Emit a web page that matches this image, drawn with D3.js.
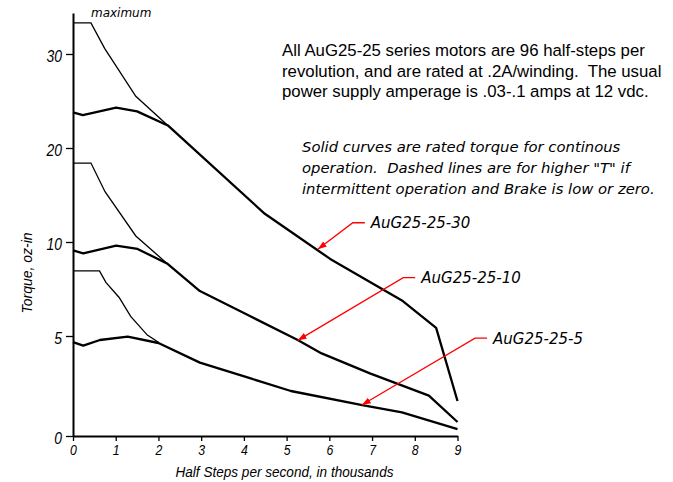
<!DOCTYPE html>
<html>
<head>
<meta charset="utf-8">
<script src="https://cdn.jsdelivr.net/npm/d3@7"></script>
<style>
  body { margin: 0; background: #fff; }
  .narrow { font-family: "Liberation Sans", Arial, sans-serif; font-style: italic; }
  text { white-space: pre; }
</style>
</head>
<body>
<div id="chart"></div>
<script>
// Torque curves (x = half steps per second in thousands, y = torque oz-in)
var max30   = [[0, 33.3], [0.42, 33.3], [0.74, 30.6], [1.47, 25.5], [2.22, 22.4]];
var rated30 = [[0, 23.8], [0.23, 23.5], [1.01, 24.3], [1.5, 23.9], [2.22, 22.4], [4.49, 13.0],
               [6.02, 9.1], [7.72, 6.86], [8.5, 5.43], [9.0, 1.75]];
var max10   = [[0, 18.4], [0.42, 18.4], [0.75, 15.35], [1.47, 10.64], [2.2, 8.86]];
var rated10 = [[0, 9.55], [0.24, 9.4], [1.01, 9.81], [1.51, 9.63], [2.2, 8.86], [2.97, 7.39],
               [4.14, 6.06], [5.26, 4.8], [5.82, 4.13], [6.95, 3.13], [8.33, 2.02], [9.0, 0.7]];
var max5    = [[0, 8.46], [0.62, 8.46], [0.77, 7.85], [1.08, 7.05], [1.35, 6.04], [1.74, 5.05], [2.0, 4.69]];
var rated5  = [[0, 4.69], [0.24, 4.52], [0.63, 4.8], [1.28, 4.97], [2.0, 4.65], [2.97, 3.67],
               [4.14, 2.89], [5.1, 2.25], [6.77, 1.54], [7.7, 1.18], [9.0, 0.34]];

var xTicks = [0, 1, 2, 3, 4, 5, 6, 7, 8, 9];
var yTicks = [0, 5, 10, 20, 30];

// callouts: label, arrow tip (on curve), elbow of leader
var labels = ["AuG25-25-30", "AuG25-25-10", "AuG25-25-5"];
var tips   = [[5.73, 9.61], [5.26, 4.78], [6.76, 1.55]];
var elbows = [[6.55, 12.05], [7.73, 8.1], [9.41, 4.89]];

var noteLines = ["All AuG25-25 series motors are 96 half-steps per",
                 "revolution, and are rated at .2A/winding.  The usual",
                 "power supply amperage is .03-.1 amps at 12 vdc."];
var italicLines = ["Solid curves are rated torque for continous",
                   "operation.  Dashed lines are for higher \"T\" if",
                   "intermittent operation and Brake is low or zero."];

var width = 673, height = 482;
var squeeze = 0.82;   // the chart uses a condensed italic face

var svg = d3.select("#chart").append("svg")
    .attr("width", width)
    .attr("height", height);

var x = d3.scaleLinear().domain([0, 9]).range([73, 457.5]);
// the printed axis is not evenly spaced, 0-5 is stretched
var y = d3.scaleLinear().domain([0, 5, 10, 20, 34.36]).range([436, 336, 242, 148, 13]);

var line = d3.line().x(d => x(d[0])).y(d => y(d[1]));

// Axes
var xAxis = d3.axisBottom(x).tickValues(xTicks).tickSize(5).tickSizeOuter(0).tickPadding(3);
var yAxis = d3.axisLeft(y).tickValues(yTicks).tickSize(7).tickSizeOuter(0).tickPadding(3);

var gx = svg.append("g").attr("transform", "translate(0," + y(0) + ")").call(xAxis);
var gy = svg.append("g").attr("transform", "translate(" + x(0) + ",0)").call(yAxis);

[gx, gy].forEach(function(g){
    g.select(".domain").attr("stroke", "#000").attr("stroke-width", 2);
    g.selectAll(".tick line").attr("stroke", "#000").attr("stroke-width", 1.3);
    g.selectAll(".tick text").attr("class", "narrow").attr("fill", "#000")
        .attr("transform", "scale(" + squeeze + ",1)");
});
gx.selectAll(".tick text").style("font-size", "15px");
gy.selectAll(".tick text").style("font-size", "17px").attr("dy", "0.42em")
    .attr("x", -11 / squeeze);

// Axis titles
svg.append("text")
    .attr("class", "narrow")
    .attr("x", 284.5)
    .attr("y", 477)
    .attr("text-anchor", "middle")
    .attr("textLength", 218)
    .attr("lengthAdjust", "spacingAndGlyphs")
    .style("font-size", "15px")
    .text("Half Steps per second, in thousands");

svg.append("text")
    .attr("class", "narrow")
    .attr("transform", "translate(32,273) rotate(-90)")
    .attr("text-anchor", "middle")
    .attr("textLength", 81)
    .attr("lengthAdjust", "spacingAndGlyphs")
    .style("font-size", "15px")
    .text("Torque, oz-in");

// Curves
var thin = [max30, max10, max5];
var thick = [rated30, rated10, rated5];

svg.selectAll(".maxline").data(thin).enter().append("path")
    .attr("class", "maxline")
    .attr("d", line)
    .attr("fill", "none")
    .attr("stroke", "#000")
    .attr("stroke-width", 1.3);

svg.selectAll(".rated").data(thick).enter().append("path")
    .attr("class", "rated")
    .attr("d", line)
    .attr("fill", "none")
    .attr("stroke", "#000")
    .attr("stroke-width", 2.3)
    .attr("stroke-linejoin", "round");

svg.append("text")
    .attr("x", x(0.42))
    .attr("y", 17)
    .style("font-family", "'DejaVu Sans', Verdana, sans-serif")
    .style("font-style", "italic")
    .style("font-size", "12px")
    .text("maximum");

// Callouts
svg.append("defs").append("marker")
    .attr("id", "arrow")
    .attr("viewBox", "0 0 10 10")
    .attr("refX", 10).attr("refY", 5)
    .attr("markerWidth", 9).attr("markerHeight", 9)
    .attr("markerUnits", "userSpaceOnUse")
    .attr("orient", "auto")
  .append("path")
    .attr("d", "M0,1.5 L10,5 L0,8.5 Z")
    .attr("fill", "#ff0000");

var callout = svg.selectAll(".callout").data(labels).enter().append("g").attr("class", "callout");

callout.append("polyline")
    .attr("points", (d, i) => {
        var ex = x(elbows[i][0]), ey = y(elbows[i][1]);
        return (ex + 12) + "," + ey + " " + ex + "," + ey + " " + x(tips[i][0]) + "," + y(tips[i][1]);
    })
    .attr("fill", "none")
    .attr("stroke", "#ff0000")
    .attr("stroke-width", 1.3)
    .attr("marker-end", "url(#arrow)");

callout.append("text")
    .attr("x", (d, i) => x(elbows[i][0]) + 18)
    .attr("y", (d, i) => y(elbows[i][1]) + 5.5)
    .style("font-family", "'DejaVu Sans', Verdana, sans-serif")
    .style("font-style", "italic")
    .style("font-size", "15px")
    .text(d => d);

// Notes
svg.append("text")
    .attr("x", 282)
    .attr("y", 56)
    .style("font-family", "'Liberation Sans', Arial, sans-serif")
    .style("font-size", "16.8px")
    .selectAll("tspan").data(noteLines).enter().append("tspan")
    .attr("x", 282)
    .attr("dy", (d, i) => i ? 20.6 : 0)
    .text(d => d);

svg.append("text")
    .attr("x", 302)
    .attr("y", 152)
    .style("font-family", "'DejaVu Sans', Verdana, sans-serif")
    .style("font-style", "italic")
    .style("font-size", "14.8px")
    .selectAll("tspan").data(italicLines).enter().append("tspan")
    .attr("x", 302)
    .attr("dy", (d, i) => i ? 20.8 : 0)
    .text(d => d);
</script>
</body>
</html>
